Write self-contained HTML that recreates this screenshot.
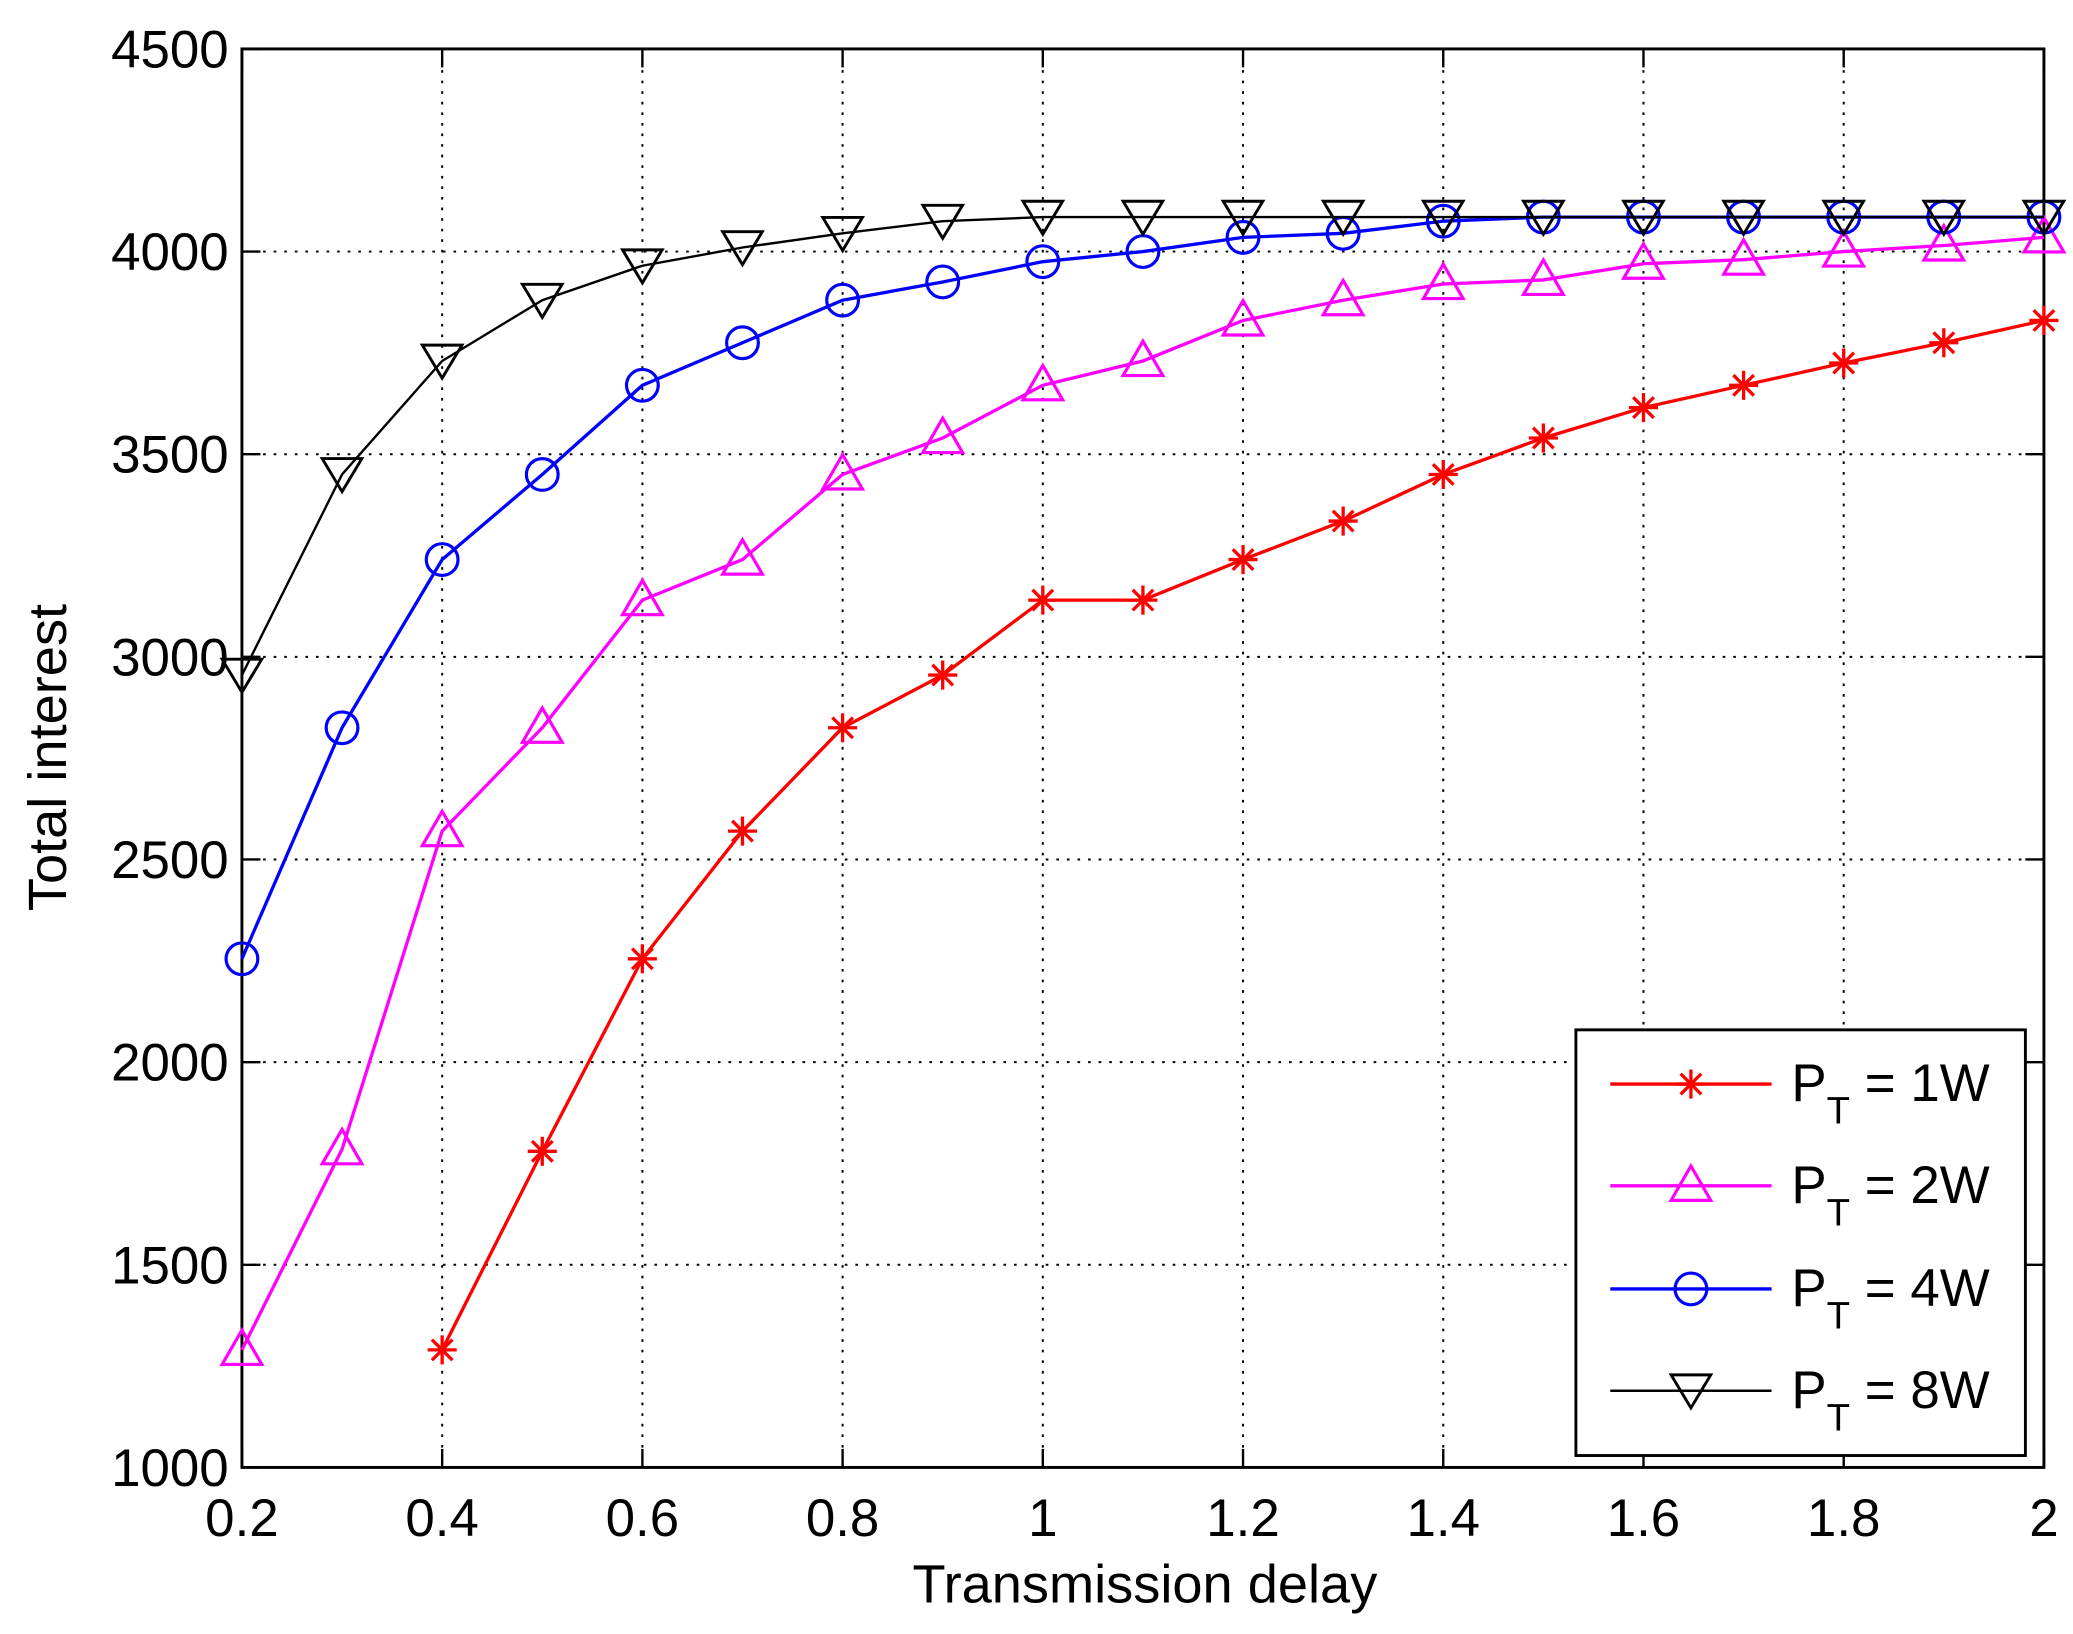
<!DOCTYPE html>
<html><head><meta charset="utf-8"><style>
html,body{margin:0;padding:0;background:#fff;}
svg{display:block;}
text{font-family:"Liberation Sans",Arial,sans-serif;fill:#000;}
</style></head><body>
<svg id="s" width="2073" height="1634" viewBox="0 0 1568 1236" preserveAspectRatio="none" xmlns="http://www.w3.org/2000/svg"></svg>
<script>
const s=document.getElementById('s');
const L=183,R=1546,T=37,B=1110;
const X=v=>L+(v-0.2)/1.8*(R-L);
const Y=v=>B-(v-1000)/3500*(B-T);
let h='';
for(let i=1;i<9;i++){const x=X(0.2+i*0.2);h+=`<line x1="${x}" y1="${T}" x2="${x}" y2="${B}" stroke="#000" stroke-width="1.5" stroke-dasharray="2,6"/>`;}
for(let v=1500;v<4500;v+=500){const y=Y(v);h+=`<line x1="${L}" y1="${y}" x2="${R}" y2="${y}" stroke="#000" stroke-width="1.5" stroke-dasharray="2,6"/>`;}
for(let i=0;i<=9;i++){const v=0.2+i*0.2,x=X(v);h+=`<line x1="${x}" y1="${B}" x2="${x}" y2="${B-14}" stroke="#000" stroke-width="1.8"/><line x1="${x}" y1="${T}" x2="${x}" y2="${T+14}" stroke="#000" stroke-width="1.8"/>`;
let lab=(Math.round(v*10)/10).toString();h+=`<text x="${x}" y="${B+52}" font-size="40" text-anchor="middle">${lab}</text>`;}
for(let v=1000;v<=4500;v+=500){const y=Y(v);h+=`<line x1="${L}" y1="${y}" x2="${L+14}" y2="${y}" stroke="#000" stroke-width="1.8"/><line x1="${R}" y1="${y}" x2="${R-14}" y2="${y}" stroke="#000" stroke-width="1.8"/><text x="${L-10}" y="${y+14}" font-size="40" text-anchor="end">${v}</text>`;}
h+=`<rect x="${L}" y="${T}" width="${R-L}" height="${B-T}" fill="none" stroke="#000" stroke-width="2.2"/>`;
h+=`<text x="866" y="1212" font-size="41" text-anchor="middle">Transmission delay</text>`;
h+=`<text transform="translate(50,573) rotate(-90)" font-size="41" text-anchor="middle">Total interest</text>`;
function mk(t,x,y,c){
 if(t=='star'){let r=11,o='';for(let a=0;a<4;a++){const an=a*Math.PI/4;o+=`<line x1="${x-r*Math.cos(an)}" y1="${y-r*Math.sin(an)}" x2="${x+r*Math.cos(an)}" y2="${y+r*Math.sin(an)}" stroke="${c}" stroke-width="2.5"/>`;}return o;}
 if(t=='tri')return `<polygon points="${x},${y-15} ${x-15},${y+11} ${x+15},${y+11}" fill="none" stroke="${c}" stroke-width="2.4"/>`;
 if(t=='circ')return `<circle cx="${x}" cy="${y}" r="12" fill="none" stroke="${c}" stroke-width="2.4"/>`;
 if(t=='dtri')return `<polygon points="${x},${y+13} ${x-15},${y-12} ${x+15},${y-12}" fill="none" stroke="${c}" stroke-width="2.2"/>`;
}
const S=[
 ['#ff0000','star',0.4,[1290,1780,2255,2570,2825,2955,3140,3140,3240,3335,3450,3540,3615,3670,3725,3775,3830],2.5],
 ['#ff00ff','tri',0.2,[1290,1785,2570,2825,3140,3240,3450,3540,3670,3730,3830,3880,3920,3930,3970,3980,4000,4015,4035],2.5],
 ['#0000ff','circ',0.2,[2255,2825,3240,3450,3670,3775,3880,3925,3975,4000,4035,4045,4075,4085,4085,4085,4085,4085,4085],2.5],
 ['#000000','dtri',0.2,[2955,3450,3730,3880,3965,4010,4045,4075,4085,4085,4085,4085,4085,4085,4085,4085,4085,4085,4085],1.8]
];
for(const [c,t,x0,d,w] of S){const pts=d.map((v,i)=>[X(x0+i*0.1),Y(v)]);
 h+=`<polyline points="${pts.map(p=>p.join(',')).join(' ')}" fill="none" stroke="${c}" stroke-width="${w}"/>`;
 for(const p of pts)h+=mk(t,p[0],p[1],c);}
h+=`<rect x="1192" y="779" width="340" height="322" fill="#fff" stroke="#000" stroke-width="2.2"/>`;
const labs=['1W','2W','4W','8W'],ly=[820,897,975,1052];
S.forEach((sr,i)=>{const y=ly[i];h+=`<line x1="1218" y1="${y}" x2="1340" y2="${y}" stroke="${sr[0]}" stroke-width="${sr[4]}"/>`+mk(sr[1],1279,y,sr[0]);
 h+=`<text x="1355" y="${y+13}" font-size="40">P<tspan font-size="29" dy="17">T</tspan><tspan dy="-17"> = ${labs[i]}</tspan></text>`;});
s.innerHTML=h;
</script>
</body></html>
